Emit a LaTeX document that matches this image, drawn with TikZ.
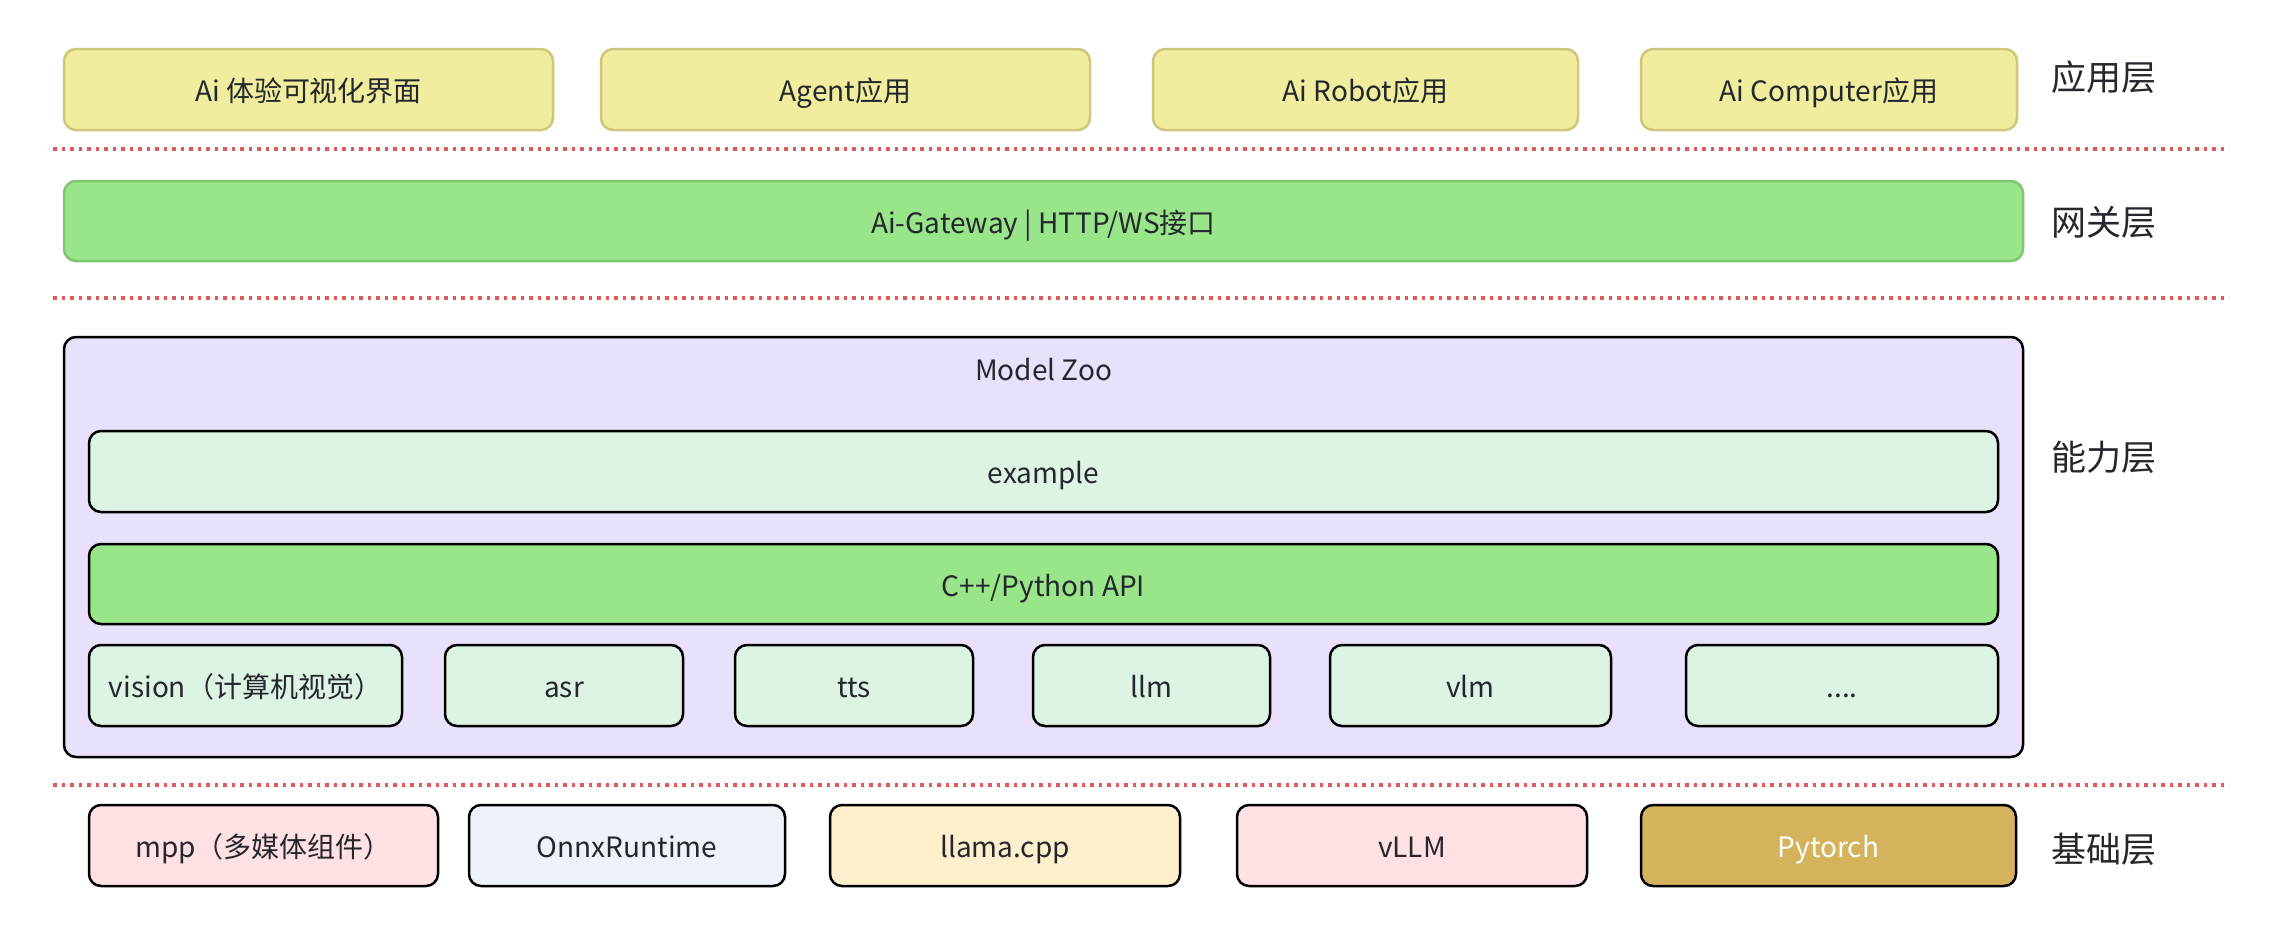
\documentclass[tikz,border=0pt]{standalone}
\usepackage{fontspec}
\setmainfont{Noto Sans CJK SC}
\definecolor{txt}{HTML}{24272B}
\definecolor{appfill}{HTML}{F0ED9E}
\definecolor{appdraw}{HTML}{CFC77C}
\definecolor{gwfill}{HTML}{98E58A}
\definecolor{gwdraw}{HTML}{7FC672}
\definecolor{zoofill}{HTML}{E9E0FC}
\definecolor{mintfill}{HTML}{DDF4E4}
\definecolor{pinkfill}{HTML}{FFE1E3}
\definecolor{bluefill}{HTML}{EEF2FB}
\definecolor{creamfill}{HTML}{FEF0CD}
\definecolor{goldfill}{HTML}{D4B35C}
\definecolor{sepred}{HTML}{E05A5A}
\tikzset{
  base/.style={rounded corners=12pt, inner sep=0pt, text=txt,
    font=\fontsize{28}{32}\selectfont, text height=32pt, text depth=8pt},
  appbox/.style={base, draw=appdraw, fill=appfill, line width=2.5pt, minimum height=81pt},
  gwbox/.style={base, draw=gwdraw, fill=gwfill, line width=2.5pt, minimum height=80pt},
  blkbox/.style={base, draw=black, line width=2.5pt, minimum height=81pt},
  layerlabel/.style={text=txt, inner sep=0pt, font=\fontsize{35}{40}\selectfont},
  sepline/.style={draw=sepred, line width=3.5pt, dash pattern=on 3.5pt off 5pt}
}
\begin{document}
\begin{tikzpicture}[x=1pt,y=-1pt]
\useasboundingbox[fill=white] (0,0) rectangle (2287,935);
% application layer
\node[appbox, minimum width=489pt] (app1) at (308.5,89.5) {Ai 体验可视化界面};
\node[appbox, minimum width=489pt] (app2) at (845.5,89.5) {Agent应用};
\node[appbox, minimum width=425pt] (app3) at (1365.5,89.5) {Ai Robot应用};
\node[appbox, minimum width=376pt] (app4) at (1829,89.5) {Ai Computer应用};
\node[layerlabel] (l1) at (2104,77) {应用层};
% separators
\coordinate (s1a) at (53,149); \coordinate (s1b) at (2229,149);
\coordinate (s2a) at (53,298); \coordinate (s2b) at (2229,298);
\coordinate (s3a) at (53,785); \coordinate (s3b) at (2229,785);
\draw[sepline] (s1a) -- (s1b);
\draw[sepline] (s2a) -- (s2b);
\draw[sepline] (s3a) -- (s3b);
% gateway
\node[gwbox, minimum width=1959pt] (gw) at (1043.5,221) {Ai-Gateway | HTTP/WS接口};
\node[layerlabel] (l2) at (2104,222) {网关层};
% model zoo
\node[blkbox, fill=zoofill, minimum width=1959pt, minimum height=420pt] (zoo) at (1043.5,547) {};
\node[text=txt, inner sep=0pt, font=\fontsize{28}{32}\selectfont] (zootitle) at (1043.5,370) {Model Zoo};
\node[blkbox, fill=mintfill, minimum width=1909pt] (ex) at (1043.5,471.5) {example};
\node[blkbox, fill=gwfill, minimum width=1909pt, minimum height=80pt] (api) at (1043.5,584) {C++/Python API};
\node[blkbox, fill=mintfill, minimum width=313pt] (vision) at (245.5,685.5) {vision（计算机视觉）};
\node[blkbox, fill=mintfill, minimum width=238pt] (asr) at (564,685.5) {asr};
\node[blkbox, fill=mintfill, minimum width=238pt] (tts) at (854,685.5) {tts};
\node[blkbox, fill=mintfill, minimum width=237pt] (llm) at (1151.5,685.5) {llm};
\node[blkbox, fill=mintfill, minimum width=281pt] (vlm) at (1470.5,685.5) {vlm};
\node[blkbox, fill=mintfill, minimum width=312pt] (more) at (1842,685.5) {....};
\node[layerlabel] (l3) at (2104,457) {能力层};
% foundation
\node[blkbox, fill=pinkfill, minimum width=349pt] (mpp) at (263.5,845.5) {mpp（多媒体组件）};
\node[blkbox, fill=bluefill, minimum width=316pt] (onnx) at (627,845.5) {OnnxRuntime};
\node[blkbox, fill=creamfill, minimum width=350pt] (llama) at (1005,845.5) {llama.cpp};
\node[blkbox, fill=pinkfill, minimum width=350pt] (vllm) at (1412,845.5) {vLLM};
\node[blkbox, fill=goldfill, text=white, minimum width=375pt] (torch) at (1828.5,845.5) {Pytorch};
\node[layerlabel] (l4) at (2104,849) {基础层};
\end{tikzpicture}
\end{document}
